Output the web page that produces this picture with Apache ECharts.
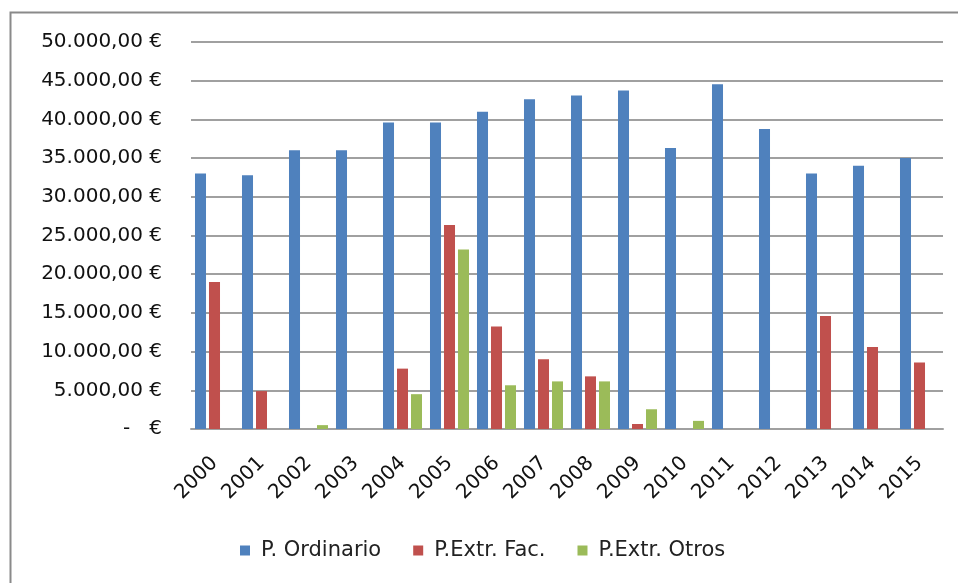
<!DOCTYPE html>
<html>
<head>
<meta charset="utf-8">
<script src="https://cdn.jsdelivr.net/npm/echarts@6/dist/echarts.min.js"></script>
<style>
html,body{margin:0;padding:0;background:#fff;}
#chart{width:958px;height:583px;}
</style>
</head>
<body>
<div id="chart"></div>
<script>
const years = ['2000','2001','2002','2003','2004','2005','2006','2007','2008','2009','2010','2011','2012','2013','2014','2015'];
const seriesNames = ['P. Ordinario','P.Extr. Fac.','P.Extr. Otros'];
const ordinario = [33000,32800,36000,36000,39600,39600,41000,42600,43100,43750,36300,44550,38750,33000,34000,35000];
const extrFac   = [19000,4900,0,0,7800,26350,13250,9000,6800,650,0,0,0,14600,10600,8600];
const extrOtros = [0,0,500,0,4500,23200,5650,6150,6150,2550,1050,0,0,0,0,0];
const yTicks = {min:0, max:50000, interval:5000};
const colors = ['#4F81BD','#C0504D','#9BBB59'];

function fmtEuro(v){
  if (v === 0) return '-   €';
  const s = Math.round(v).toString().replace(/\B(?=(\d{3})+(?!\d))/g,'.');
  return s + ',00 €';
}

const font = 'DejaVu Sans';
const chart = echarts.init(document.getElementById('chart'), null, {renderer:'canvas'});
const mk = (name, data, color) => ({
  name, type:'bar', data,
  barGap:'27%', barCategoryGap:'17%',
  itemStyle:{color},
  emphasis:{disabled:true}
});
chart.setOption({
  animation:false,
  backgroundColor:'#ffffff',
  color: colors,
  graphic:[{
    type:'rect', silent:true, z:-1,
    shape:{x:10.5, y:12.5, width:1000, height:700},
    style:{fill:'none', stroke:'#8a8a8a', lineWidth:2}
  }],
  grid:{left:191, right:15, top:42, bottom:154, containLabel:false},
  legend:{
    data:seriesNames,
    left:235, top:535,
    icon:'rect', itemWidth:10, itemHeight:10, itemGap:32,
    textStyle:{fontFamily:font, fontSize:21, color:'#222', padding:[0,0,0,6]}
  },
  xAxis:{
    type:'category', data:years,
    axisLine:{show:true, lineStyle:{color:'#a0a0a0', width:2}},
    axisTick:{show:false},
    axisLabel:{rotate:45, interval:0, margin:31, fontFamily:font, fontSize:20, color:'#111'}
  },
  yAxis:{
    type:'value', min:yTicks.min, max:yTicks.max, interval:yTicks.interval,
    axisLine:{show:false}, axisTick:{show:false},
    splitLine:{lineStyle:{color:'#a0a0a0', width:2}},
    axisLabel:{margin:29, fontFamily:font, fontSize:20, color:'#111', formatter:fmtEuro}
  },
  series:[
    mk(seriesNames[0], ordinario, colors[0]),
    mk(seriesNames[1], extrFac, colors[1]),
    mk(seriesNames[2], extrOtros, colors[2])
  ]
});
</script>
</body>
</html>
